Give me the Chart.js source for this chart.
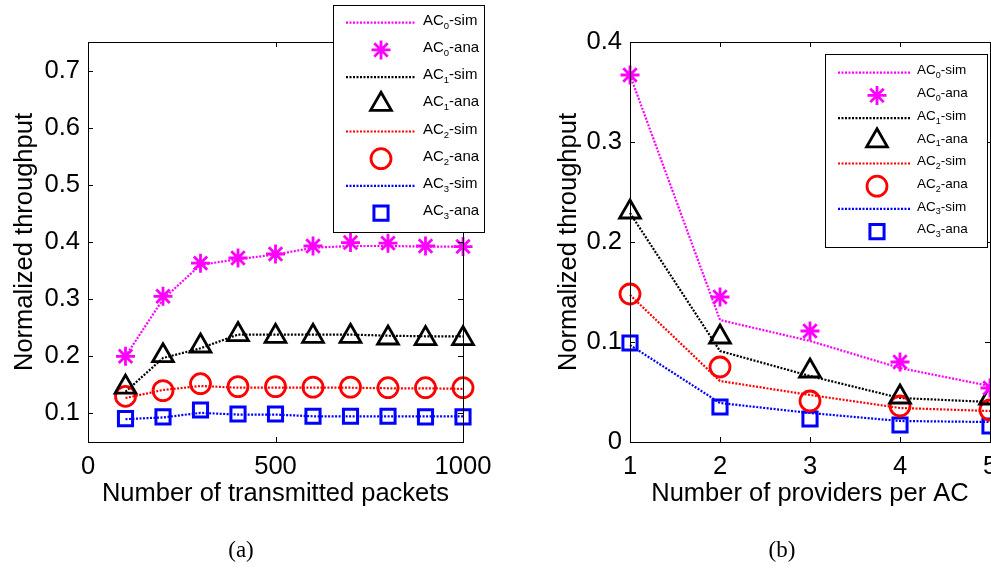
<!DOCTYPE html>
<html>
<head>
<meta charset="utf-8">
<script src="https://cdn.jsdelivr.net/npm/chart.js@4/dist/chart.umd.min.js"></script>
<style>
  html, body { margin:0; padding:0; background:#fff; width:991px; height:571px; overflow:hidden; }
  #wrapA { position:absolute; left:0; top:0; width:520px; height:571px; }
  #wrapB { position:absolute; left:520px; top:0; width:500px; height:571px; }
  .cap { position:absolute; top:537px; font-family:'Liberation Serif','Times New Roman',serif; font-size:23px; color:#000; transform:translateX(-50%); }
</style>
</head>
<body>
<div id="wrapA"><canvas id="chartA" width="520" height="571"></canvas></div>
<div id="wrapB"><canvas id="chartB" width="500" height="571"></canvas></div>
<div class="cap" style="left:241px">(a)</div>
<div class="cap" style="left:782px">(b)</div>
<script>
// ---------------- DATA ----------------
const packets = [100, 200, 300, 400, 500, 600, 700, 800, 900, 1000];
const a_ac0_sim = [0.200, 0.300, 0.360, 0.370, 0.378, 0.390, 0.393, 0.393, 0.392, 0.392];
const a_ac0_ana = [0.200, 0.305, 0.363, 0.372, 0.379, 0.393, 0.399, 0.398, 0.393, 0.392];
const a_ac1_sim = [0.138, 0.197, 0.214, 0.238, 0.238, 0.238, 0.238, 0.236, 0.235, 0.235];
const a_ac1_ana = [0.146, 0.201, 0.218, 0.238, 0.235, 0.235, 0.235, 0.232, 0.231, 0.231];
const a_ac2_sim = [0.127, 0.141, 0.148, 0.145, 0.145, 0.145, 0.145, 0.144, 0.144, 0.143];
const a_ac2_ana = [0.130, 0.140, 0.152, 0.147, 0.147, 0.146, 0.146, 0.145, 0.145, 0.145];
const a_ac3_sim = [0.090, 0.093, 0.101, 0.098, 0.098, 0.095, 0.095, 0.095, 0.095, 0.095];
const a_ac3_ana = [0.091, 0.094, 0.106, 0.099, 0.099, 0.095, 0.095, 0.095, 0.094, 0.094];

const providers = [1, 2, 3, 4, 5];
const b_ac0_sim = [0.367, 0.122, 0.101, 0.074, 0.056];
const b_ac0_ana = [0.367, 0.145, 0.111, 0.080, 0.054];
const b_ac1_sim = [0.229, 0.091, 0.066, 0.044, 0.040];
const b_ac1_ana = [0.230, 0.105, 0.071, 0.045, 0.044];
const b_ac2_sim = [0.147, 0.061, 0.047, 0.034, 0.031];
const b_ac2_ana = [0.148, 0.075, 0.041, 0.036, 0.032];
const b_ac3_sim = [0.097, 0.039, 0.029, 0.021, 0.020];
const b_ac3_ana = [0.099, 0.035, 0.023, 0.017, 0.016];

const xTicksA = [0, 500, 1000];
const yTicksA = [0.1, 0.2, 0.3, 0.4, 0.5, 0.6, 0.7];
const xTicksB = [1, 2, 3, 4, 5];
const yTicksB = [0, 0.1, 0.2, 0.3, 0.4];

const seriesNames = ['AC', 'AC', 'AC', 'AC'];
const subs = ['0', '1', '2', '3'];
const yTitle = 'Normalized throughput';
const xTitleA = 'Number of transmitted packets';
const xTitleB = 'Number of providers per AC';

// ---------------- STYLE ----------------
const colors = ['#ff00ff', '#000000', '#ff0000', '#0000ff'];
const markers = ['star', 'triangle', 'circle', 'rect'];
const markerRadius = [9.5, 12, 10, 10];
const markerWidth = [2.8, 2.8, 2.8, 3];
const tickFont = { family: "'Liberation Sans Narrow', 'Liberation Sans', Arial, sans-serif", size: 25.6 };
const titleFont = { family: "'Liberation Sans', Arial, sans-serif", size: 25.5 };

function pts(xs, ys) { return xs.map((x, i) => ({ x: x, y: ys[i] })); }

function buildDatasets(xs, sims, anas) {
  const ds = [];
  for (let i = 0; i < 4; i++) {
    ds.push({
      label: 'AC' + i + '-sim', data: pts(xs, sims[i]),
      borderColor: colors[i], backgroundColor: colors[i], borderWidth: 2.2,
      borderDash: [2, 1.5], pointRadius: 0, showLine: true, fill: false, tension: 0, order: 10 + i, clip: false
    });
    ds.push({
      label: 'AC' + i + '-ana', data: pts(xs, anas[i]),
      borderColor: colors[i], backgroundColor: 'rgba(0,0,0,0)', showLine: false,
      pointStyle: markers[i], pointRadius: markerRadius[i], pointBorderWidth: markerWidth[i],
      pointBorderColor: colors[i], pointBackgroundColor: 'rgba(0,0,0,0)', order: i, clip: false
    });
  }
  return ds;
}

function drawMarker(ctx, style, r, x, y, color, lw) {
  ctx.save();
  ctx.strokeStyle = color; ctx.lineWidth = lw; ctx.setLineDash([]);
  ctx.beginPath();
  if (style === 'star') {
    for (let k = 0; k < 4; k++) {
      const a = k * Math.PI / 4;
      ctx.moveTo(x - Math.sin(a) * r, y - Math.cos(a) * r);
      ctx.lineTo(x + Math.sin(a) * r, y + Math.cos(a) * r);
    }
  } else if (style === 'triangle') {
    let a = 0;
    ctx.moveTo(x + Math.sin(a) * r, y - Math.cos(a) * r);
    a += 2 * Math.PI / 3; ctx.lineTo(x + Math.sin(a) * r, y - Math.cos(a) * r);
    a += 2 * Math.PI / 3; ctx.lineTo(x + Math.sin(a) * r, y - Math.cos(a) * r);
    ctx.closePath();
  } else if (style === 'circle') {
    ctx.arc(x, y, r, 0, Math.PI * 2);
  } else {
    const s = r * Math.SQRT1_2;
    ctx.rect(x - s, y - s, 2 * s, 2 * s);
  }
  ctx.stroke();
  ctx.restore();
}

const framePlugin = {
  id: 'frame',
  afterDraw(chart, args, opts) {
    const ctx = chart.ctx, a = chart.chartArea;
    const xs = chart.scales.x, ys = chart.scales.y;
    ctx.save();
    ctx.strokeStyle = '#000'; ctx.lineWidth = 1; ctx.setLineDash([]);
    ctx.strokeRect(Math.round(a.left) + 0.5, Math.round(a.top) + 0.5, Math.round(a.right - a.left), Math.round(a.bottom - a.top));
    const tl = 5;
    ctx.beginPath();
    xs.ticks.forEach(t => {
      const px = Math.round(xs.getPixelForValue(t.value)) + 0.5;
      ctx.moveTo(px, a.bottom); ctx.lineTo(px, a.bottom - tl);
      ctx.moveTo(px, a.top); ctx.lineTo(px, a.top + tl);
    });
    ys.ticks.forEach(t => {
      const py = Math.round(ys.getPixelForValue(t.value)) + 0.5;
      ctx.moveTo(a.left, py); ctx.lineTo(a.left + tl, py);
      ctx.moveTo(a.right, py); ctx.lineTo(a.right - tl, py);
    });
    ctx.stroke();
    // legend
    const L = opts;
    if (L && L.box) {
      const b = L.box;
      ctx.fillStyle = '#fff';
      ctx.fillRect(b[0], b[1], b[2] - b[0], b[3] - b[1]);
      ctx.strokeStyle = '#000'; ctx.lineWidth = 1;
      ctx.strokeRect(b[0] + 0.5, b[1] + 0.5, b[2] - b[0], b[3] - b[1]);
      for (let i = 0; i < 8; i++) {
        const s = Math.floor(i / 2), isAna = i % 2 === 1;
        const y = L.y0 + i * L.dy;
        if (!isAna) {
          ctx.save();
          ctx.strokeStyle = colors[s]; ctx.lineWidth = 2.2; ctx.setLineDash([2, 1.5]);
          ctx.beginPath(); ctx.moveTo(L.lx1, y); ctx.lineTo(L.lx2, y); ctx.stroke();
          ctx.restore();
        } else {
          drawMarker(ctx, markers[s], markerRadius[s], L.mx, y, colors[s], markerWidth[s]);
        }
        const ty = y - 2;
        ctx.fillStyle = '#000';
        ctx.textBaseline = 'middle'; ctx.textAlign = 'left';
        ctx.font = L.fs + "px 'Liberation Sans', Arial, sans-serif";
        let tx = L.tx;
        ctx.fillText(seriesNames[s], tx, ty);
        tx += ctx.measureText(seriesNames[s]).width;
        ctx.font = L.ss + "px 'Liberation Sans', Arial, sans-serif";
        ctx.fillText(subs[s], tx, ty + L.sOff);
        tx += ctx.measureText(subs[s]).width;
        ctx.font = L.fs + "px 'Liberation Sans', Arial, sans-serif";
        ctx.fillText(isAna ? '-ana' : '-sim', tx, ty);
      }
    }
    ctx.restore();
  }
};

function makeChart(id, cfg) {
  return new Chart(document.getElementById(id), {
    type: 'scatter',
    data: { datasets: cfg.datasets },
    options: {
      responsive: false, animation: false, devicePixelRatio: 1,
      layout: { padding: { top: cfg.padTop, right: cfg.padRight, left: 0, bottom: 0 } },
      plugins: { legend: { display: false }, tooltip: { enabled: false }, frame: cfg.legend },
      scales: {
        x: {
          type: 'linear', min: cfg.xmin, max: cfg.xmax,
          grid: { display: false, drawTicks: false }, border: { display: false },
          afterBuildTicks: s => { s.ticks = cfg.xTicks.map(v => ({ value: v })); },
          afterFit: s => { s.height = cfg.xAxisH; },
          ticks: { color: '#000', font: tickFont, padding: 10, maxRotation: 0, autoSkip: false,
            callback: v => String(v) },
          title: { display: true, text: cfg.xTitle, color: '#000', font: titleFont, padding: { top: 0, bottom: 62 } }
        },
        y: {
          type: 'linear', min: cfg.ymin, max: cfg.ymax,
          grid: { display: false, drawTicks: false }, border: { display: false },
          afterBuildTicks: s => { s.ticks = cfg.yTicks.map(v => ({ value: v })); },
          afterFit: s => { s.width = cfg.yAxisW; },
          ticks: { color: '#000', font: tickFont, padding: 8, autoSkip: false,
            callback: v => (v === 0 ? '0' : (+v).toFixed(1)) },
          title: { display: true, text: yTitle, color: '#000', font: titleFont, padding: { top: cfg.yTitlePad, bottom: 0 } }
        }
      }
    },
    plugins: [framePlugin]
  });
}

makeChart('chartA', {
  datasets: buildDatasets(packets, [a_ac0_sim, a_ac1_sim, a_ac2_sim, a_ac3_sim], [a_ac0_ana, a_ac1_ana, a_ac2_ana, a_ac3_ana]),
  xmin: 0, xmax: 1000, ymin: 0.05, ymax: 0.75, xTicks: xTicksA, yTicks: yTicksA,
  padTop: 42, padRight: 57, xAxisH: 129, yAxisW: 88, yTitlePad: 10, xTitle: xTitleA,
  legend: { box: [333, 5, 484, 232], y0: 22.7, dy: 27.2, lx1: 346, lx2: 415, mx: 381, tx: 423, fs: 15, ss: 9.5, sOff: 5.5 }
});

makeChart('chartB', {
  datasets: buildDatasets(providers, [b_ac0_sim, b_ac1_sim, b_ac2_sim, b_ac3_sim], [b_ac0_ana, b_ac1_ana, b_ac2_ana, b_ac3_ana]),
  xmin: 1, xmax: 5, ymin: 0, ymax: 0.4, xTicks: xTicksB, yTicks: yTicksB,
  padTop: 42, padRight: 30, xAxisH: 129, yAxisW: 110, yTitlePad: 34, xTitle: xTitleB,
  legend: { box: [305, 54, 467, 247], y0: 72.7, dy: 22.7, lx1: 318, lx2: 390, mx: 357, tx: 397, fs: 13.5, ss: 9, sOff: 5 }
});
</script>
</body>
</html>
